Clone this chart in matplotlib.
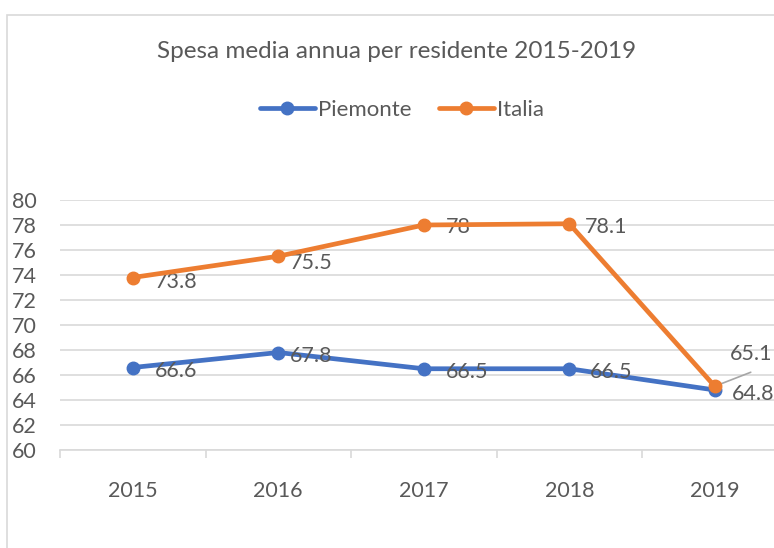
import matplotlib

matplotlib.use("Agg")

import matplotlib.pyplot as plt
from matplotlib.patches import Rectangle

years = ["2015", "2016", "2017", "2018", "2019"]
piemonte = [66.6, 67.8, 66.5, 66.5, 64.8]
italia = [73.8, 75.5, 78.0, 78.1, 65.1]
piemonte_labels = ["66.6", "67.8", "66.5", "66.5", "64.8"]
italia_labels = ["73.8", "75.5", "78", "78.1", "65.1"]

BLUE = "#4472c4"
ORANGE = "#ed7d31"
TEXT = "#595959"
GRID = "#d9d9d9"
FS = 15.5

plt.rcParams["font.family"] = ["Lato", "DejaVu Sans"]

W, H = 774, 548
fig = plt.figure(figsize=(W / 100, H / 100), dpi=100)

# chart-area border (cropped on the right and bottom like the source)
fig.patches.append(Rectangle((7 / W, -0.1), 2.0, (H - 15) / H + 0.1, transform=fig.transFigure,
                             fill=False, edgecolor=GRID, linewidth=1.2))

ax = fig.add_axes([60 / W, (H - 450) / H, 727.5 / W, 250 / H])
x = list(range(len(years)))

ax.plot(x, piemonte, color=BLUE, linewidth=3.4, marker="o", markersize=9, label="Piemonte",
        solid_capstyle="round", zorder=3)
ax.plot(x, italia, color=ORANGE, linewidth=3.4, marker="o", markersize=9, label="Italia",
        solid_capstyle="round", zorder=4)

ax.set_xlim(-0.5, 4.5)
ax.set_ylim(60, 80)
ax.set_yticks(range(60, 81, 2))
ax.set_xticks(x)
ax.set_xticklabels(years)
ax.set_xticks([i - 0.5 for i in range(6)], minor=True)
ax.tick_params(axis="x", which="major", length=0, pad=22, labelsize=FS, labelcolor=TEXT)
ax.tick_params(axis="x", which="minor", length=6, color=GRID, width=1.2)
ax.tick_params(axis="y", length=0, pad=17, labelsize=FS, labelcolor=TEXT)
ax.grid(axis="y", color=GRID, linewidth=1.2)
ax.set_axisbelow(True)
for side in ["left", "right", "top"]:
    ax.spines[side].set_visible(False)
ax.spines["bottom"].set_color(GRID)
ax.spines["bottom"].set_linewidth(1.2)

# data labels, placed to the right of each point as in the source
blue_off = [(22, -3), (12, -3), (22, -3), (21, -3), (17, -4)]
orange_off = [(22, -4), (12, -7), (22, -2), (16, -3), (15, 32)]
for i in x:
    ax.annotate(piemonte_labels[i], (i, piemonte[i]), xytext=blue_off[i], textcoords="offset pixels",
                ha="left", va="center", fontsize=FS, color=TEXT, annotation_clip=False)
    ax.annotate(italia_labels[i], (i, italia[i]), xytext=orange_off[i], textcoords="offset pixels",
                ha="left", va="center", fontsize=FS, color=TEXT, annotation_clip=False)

# leader line for the crowded 2019 label
ax.annotate("", xy=(4, italia[4]), xytext=(36, 14), textcoords="offset pixels",
            arrowprops=dict(arrowstyle="-", color="#a6a6a6", linewidth=1.2, shrinkA=0, shrinkB=3))

fig.text(397 / W, 1 - 52 / H, "Spesa media annua per residente 2015-2019", ha="center", va="center",
         fontsize=17.5, color=TEXT)
fig.legend(loc="center", bbox_to_anchor=(402 / W, 1 - 110 / H), ncol=2, frameon=False,
           fontsize=FS + 0.5, labelcolor=TEXT, handlelength=2.5, handletextpad=0.15, columnspacing=1.2)

fig.savefig("out.png", dpi=100)
